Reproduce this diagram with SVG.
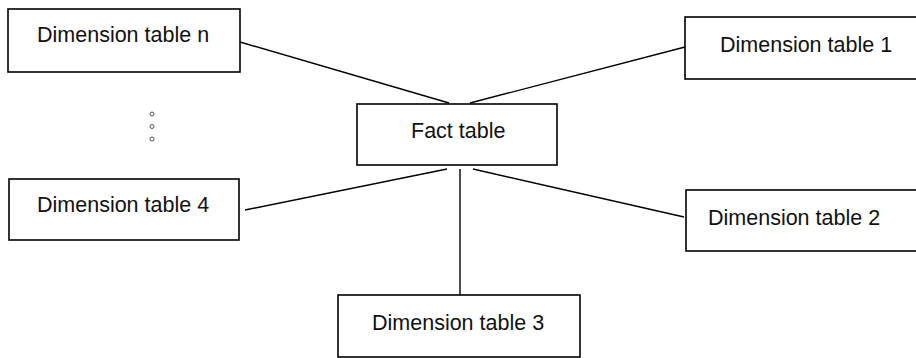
<svg xmlns="http://www.w3.org/2000/svg" width="916" height="358" viewBox="0 0 916 358">
<style>
.box{fill:#fff;stroke:#000;stroke-width:1.6}
.lbl{font-family:"Liberation Sans",Arial,sans-serif;font-size:21.5px;fill:#111}
.conn line{stroke:#000;stroke-width:1.4}
.dot{fill:none;stroke:#555;stroke-width:1}
</style>
<rect width="916" height="358" fill="#fff"/>
<g id="connectors" class="conn">
<line x1="240" y1="42" x2="449" y2="103"/>
<line x1="470" y1="103" x2="685" y2="47"/>
<line x1="447" y1="169" x2="245" y2="210"/>
<line x1="473" y1="169" x2="684" y2="217"/>
<line x1="460" y1="169" x2="460" y2="295"/>
</g>
<g id="dimn"><rect class="box" x="8" y="9" width="232" height="63"/><text class="lbl" x="37" y="42">Dimension table n</text></g>
<g id="ellipsis"><circle class="dot" cx="152" cy="114" r="2"/><circle class="dot" cx="152" cy="126.5" r="2"/><circle class="dot" cx="152" cy="139" r="2"/></g>
<g id="fact"><rect class="box" x="357" y="104" width="200" height="61"/><text class="lbl" x="411" y="138">Fact table</text></g>
<g id="dim1"><rect class="box" x="685" y="17" width="250" height="62"/><text class="lbl" x="720" y="52">Dimension table 1</text></g>
<g id="dim4"><rect class="box" x="9" y="179" width="230" height="61"/><text class="lbl" x="37" y="212">Dimension table 4</text></g>
<g id="dim2"><rect class="box" x="686" y="190" width="250" height="61"/><text class="lbl" x="708" y="225">Dimension table 2</text></g>
<g id="dim3"><rect class="box" x="338" y="295" width="242" height="62"/><text class="lbl" x="372" y="330">Dimension table 3</text></g>
</svg>
